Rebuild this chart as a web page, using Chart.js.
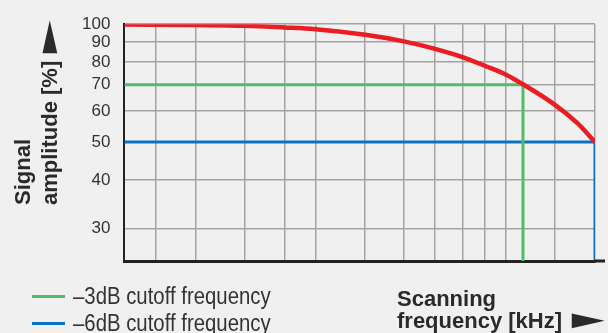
<!DOCTYPE html>
<html lang="en">
<head>
    <meta charset="UTF-8">
    <title>Signal amplitude vs scanning frequency</title>
    <script src="https://cdn.jsdelivr.net/npm/chart.js"></script>
    <style>
        body {
            margin: 0;
            background: #f0f0f0;
            font-family: 'Liberation Sans', Arial, sans-serif;
            color: #2a2a2a;
        }

        .wrap {
            position: relative;
            width: 608px;
            height: 333px;
        }

        #chart {
            position: absolute;
            left: 0;
            top: 0;
        }

        .y-title {
            position: absolute;
            left: 10px;
            top: 205px;
            transform-origin: 0 0;
            transform: rotate(-90deg);
            font-weight: bold;
            font-size: 22px;
            line-height: 26.5px;
            white-space: nowrap;
        }

        .x-title {
            position: absolute;
            left: 397px;
            top: 288px;
            font-weight: bold;
            font-size: 22px;
            line-height: 21.6px;
            white-space: nowrap;
        }

        .arrow {
            display: inline-block;
            font-size: 25px;
            line-height: 10px;
            transform: scaleX(2.2);
            transform-origin: left center;
            margin-left: -7px;
        }

        .y-title .arrow {
            margin-left: -9px;
        }

        .legend-row {
            position: absolute;
            left: 32px;
            height: 26px;
            display: flex;
            align-items: center;
            font-size: 23px;
            line-height: 26px;
            color: #333;
            white-space: nowrap;
        }

        .legend-row .swatch {
            display: inline-block;
            width: 33px;
            height: 3px;
            margin-right: 8px;
        }

        .legend-row .label {
            display: inline-block;
            transform: scaleX(0.885);
            transform-origin: left center;
        }
    </style>
</head>
<body>

<div class="wrap">
    <canvas id="chart" width="608" height="333"></canvas>

    <div class="y-title">Signal<br>amplitude [%] <span class="arrow">►</span></div>
    <div class="x-title">Scanning<br>frequency [kHz] <span class="arrow">►</span></div>

    <div class="legend-row" style="top: 283px;"><span class="swatch" id="sw3"></span><span class="label" id="lb3"></span></div>
    <div class="legend-row" style="top: 310px;"><span class="swatch" id="sw6"></span><span class="label" id="lb6"></span></div>
</div>

<script>
    // x is relative scanning frequency (% of the -6dB point), y is amplitude in %
    const curveX = [0, 15.1, 25.5, 34.0, 40.6, 51.2, 59.4, 66.0, 72.0, 76.6, 81.1, 84.7, 91.5, 96.2, 100];
    const curveY = [99.8, 99.5, 99.1, 98.1, 97.1, 94.0, 90.4, 86.5, 82.3, 78.3, 74.3, 70.2, 62.2, 55.9, 50];

    const xGrid = [6.6, 15.1, 25.5, 34.0, 40.6, 51.0, 59.4, 66.0, 72.0, 76.6, 81.1, 84.7, 91.5, 100];
    const yTicks = [30, 40, 50, 60, 70, 80, 90, 100];
    const yMin = 24.8;
    const yMax = 100;

    const cutoffLabels = ['–3dB cutoff frequency', '–6dB cutoff frequency'];
    const cutoffX = [84.7, 100];
    const cutoffY = [70, 50];

    const RED = '#ec1c24';
    const GREEN = '#52bd66';
    const BLUE = '#0a72c4';

    // legend
    document.getElementById('sw3').style.background = GREEN;
    document.getElementById('sw6').style.background = BLUE;
    document.getElementById('lb3').textContent = cutoffLabels[0];
    document.getElementById('lb6').textContent = cutoffLabels[1];

    function cutoffPath(i) {
        return [
            { x: 0, y: cutoffY[i] },
            { x: cutoffX[i], y: cutoffY[i] },
            { x: cutoffX[i], y: yMin }
        ];
    }

    // the bottom axis runs a bit past the last grid line
    const axisTail = {
        id: 'axisTail',
        afterDraw(chart) {
            const { ctx, chartArea } = chart;
            const y = chart.scales.x.top;
            ctx.save();
            ctx.strokeStyle = '#222';
            ctx.lineWidth = 3;
            ctx.beginPath();
            ctx.moveTo(chartArea.right - 1, y);
            ctx.lineTo(chartArea.right + 10, y);
            ctx.stroke();
            ctx.restore();
        }
    };

    const ctx = document.getElementById('chart').getContext('2d');

    new Chart(ctx, {
        type: 'line',
        data: {
            datasets: [
                {
                    label: 'amplitude',
                    data: curveX.map((x, i) => ({ x: x, y: curveY[i] })),
                    borderColor: RED,
                    borderWidth: 4.5,
                    pointRadius: 0,
                    cubicInterpolationMode: 'monotone'
                },
                {
                    label: cutoffLabels[0],
                    data: cutoffPath(0),
                    borderColor: GREEN,
                    borderWidth: 3,
                    pointRadius: 0,
                    tension: 0
                },
                {
                    label: cutoffLabels[1],
                    data: cutoffPath(1),
                    borderColor: BLUE,
                    borderWidth: 3,
                    pointRadius: 0,
                    tension: 0
                }
            ]
        },
        options: {
            responsive: false,
            animation: false,
            events: [],
            layout: {
                padding: { left: 68, top: 19, right: 13, bottom: 72 }
            },
            plugins: {
                legend: { display: false },
                tooltip: { enabled: false }
            },
            scales: {
                x: {
                    type: 'linear',
                    min: 0,
                    max: 100,
                    afterBuildTicks: (axis) => {
                        axis.ticks = xGrid.map(v => ({ value: v }));
                    },
                    ticks: { display: false },
                    grid: {
                        color: '#a4a4a4',
                        lineWidth: 1.5,
                        drawTicks: false
                    },
                    border: { color: '#222', width: 3 }
                },
                y: {
                    type: 'logarithmic',
                    min: yMin,
                    max: yMax,
                    afterBuildTicks: (axis) => {
                        axis.ticks = yTicks.map(v => ({ value: v }));
                    },
                    ticks: {
                        padding: 14,
                        color: '#333',
                        font: { family: 'Liberation Sans', size: 17 },
                        callback: (v) => String(v)
                    },
                    grid: {
                        color: '#a4a4a4',
                        lineWidth: 1.5,
                        drawTicks: false
                    },
                    border: { color: '#222', width: 2 }
                }
            }
        },
        plugins: [axisTail]
    });
</script>

</body>
</html>
